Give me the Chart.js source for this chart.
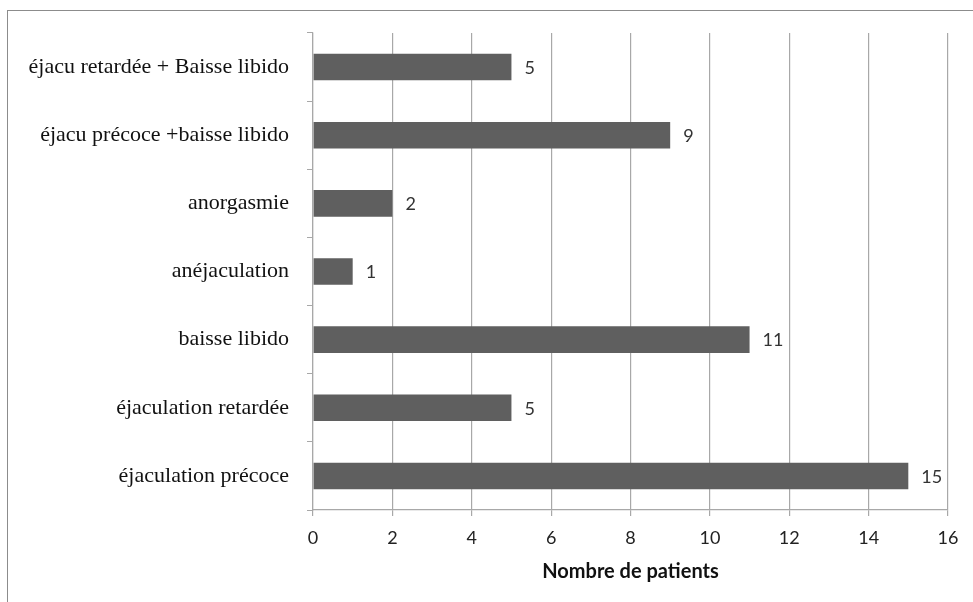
<!DOCTYPE html>
<html>
<head>
<meta charset="utf-8">
<script src="https://cdn.jsdelivr.net/npm/chart.js@4"></script>
<style>
  body { margin: 0; background: #fff; }
  #wrap { position: relative; width: 973px; height: 602px; }
  #frame { position: absolute; left: 7px; top: 10px; width: 980px; height: 600px; border: 1.5px solid #8c8c8c; box-sizing: border-box; }
  canvas { position: absolute; left: 0; top: 0; }
</style>
</head>
<body>
<div id="wrap">
  <div id="frame"></div>
  <canvas id="myChart" width="973" height="602"></canvas>
</div>
<script>
const categories = [
  'éjacu retardée + Baisse libido',
  'éjacu précoce +baisse libido',
  'anorgasmie',
  'anéjaculation',
  'baisse libido',
  'éjaculation retardée',
  'éjaculation précoce'
];
const patients = [5, 9, 2, 1, 11, 5, 15];
const axisTitle = 'Nombre de patients';

// small plugin for the value labels at the end of the bars
const valueLabels = {
  id: 'valueLabels',
  afterDatasetsDraw(chart) {
    const ctx = chart.ctx;
    const meta = chart.getDatasetMeta(0);
    ctx.save();
    ctx.font = '18px Lato';
    ctx.fillStyle = '#333';
    ctx.textAlign = 'left';
    ctx.textBaseline = 'middle';
    meta.data.forEach((bar, i) => {
      ctx.fillText(patients[i], bar.x + 13, bar.y + 1);
    });
    ctx.restore();
  }
};

const ctx = document.getElementById('myChart').getContext('2d');

const chart = new Chart(ctx, {
  type: 'bar',
  data: {
    labels: categories,
    datasets: [{
      data: patients,
      backgroundColor: '#5f5f5f',
      borderWidth: 0,
      barPercentage: 0.39,
      categoryPercentage: 1
    }]
  },
  options: {
    indexAxis: 'y',
    responsive: false,
    animation: false,
    layout: { padding: { left: 10, top: 33, right: 25, bottom: 14 } },
    plugins: {
      legend: { display: false },
      tooltip: { enabled: false }
    },
    scales: {
      x: {
        min: 0,
        max: 16,
        ticks: { stepSize: 2, color: '#222', font: { family: 'Lato', size: 18 }, padding: 11 },
        grid: { color: '#a8a8a8', lineWidth: 1.2, tickLength: 6, tickColor: '#a8a8a8' },
        border: { color: '#a8a8a8', width: 1.2 },
        title: { display: true, text: axisTitle, color: '#111', font: { family: 'Lato', size: 20, weight: 'bold' }, padding: 4 },
        afterFit(scale) { scale.height = 78; }
      },
      y: {
        ticks: { color: '#111', font: { family: 'Liberation Serif', size: 22 }, padding: 18 },
        grid: { offset: true, color: 'transparent', tickColor: '#a8a8a8', tickLength: 6, drawTicks: true },
        border: { color: '#a8a8a8', width: 1.2 },
        afterFit(scale) { scale.width = 303; }
      }
    }
  },
  plugins: [valueLabels]
});
</script>
</body>
</html>
